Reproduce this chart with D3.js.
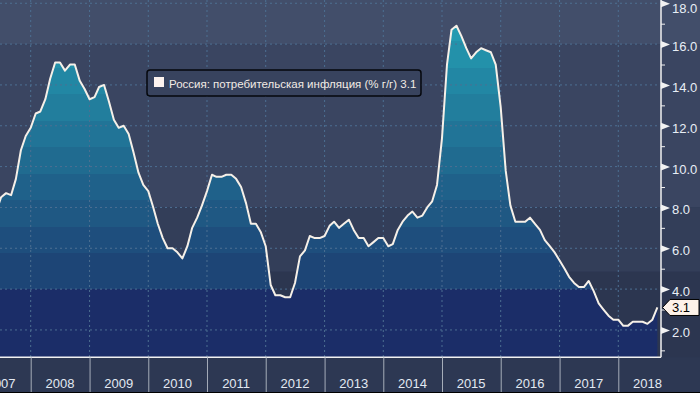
<!DOCTYPE html>
<html>
<head>
<meta charset="utf-8">
<script src="https://cdn.jsdelivr.net/npm/d3@7"></script>
<style>
  body { margin: 0; background: #2d3853; }
  svg { display: block; }
</style>
</head>
<body>
<div id="chart"></div>
<script>
// monthly CPI, % y/y, May 2007 .. Aug 2018
var startYear = 2007, startMonth = 4;
var cpi = [
  7.8, 8.5, 8.7, 8.6, 9.4, 10.8, 11.5, 11.9,
  12.6, 12.7, 13.3, 14.3, 15.1, 15.1, 14.7, 15.0, 15.0, 14.2, 13.8, 13.3,
  13.4, 13.9, 14.0, 13.2, 12.3, 11.9, 12.0, 11.6, 10.7, 9.7, 9.1, 8.8,
  8.0, 7.2, 6.5, 6.0, 6.0, 5.8, 5.5, 6.1, 7.0, 7.5, 8.1, 8.8,
  9.6, 9.5, 9.5, 9.6, 9.6, 9.4, 9.0, 8.2, 7.2, 7.2, 6.8, 6.1,
  4.2, 3.7, 3.7, 3.6, 3.6, 4.3, 5.6, 5.9, 6.6, 6.5, 6.5, 6.6,
  7.1, 7.3, 7.0, 7.2, 7.4, 6.9, 6.5, 6.5, 6.1, 6.3, 6.5, 6.5,
  6.1, 6.2, 6.9, 7.3, 7.6, 7.8, 7.5, 7.6, 8.0, 8.3, 9.1, 11.4,
  15.0, 16.7, 16.9, 16.4, 15.8, 15.3, 15.6, 15.8, 15.7, 15.6, 15.0, 12.9,
  9.8, 8.1, 7.3, 7.3, 7.3, 7.5, 7.2, 6.9, 6.4, 6.1, 5.8, 5.4,
  5.0, 4.6, 4.3, 4.1, 4.1, 4.4, 3.9, 3.3, 3.0, 2.7, 2.5, 2.5,
  2.2, 2.2, 2.4, 2.4, 2.4, 2.3, 2.5, 3.1
];
var years = [2007, 2008, 2009, 2010, 2011, 2012, 2013, 2014, 2015, 2016, 2017, 2018];
var yMajor = [2, 4, 6, 8, 10, 12, 14, 16, 18];
var yMinor = [1, 3, 5, 7, 9, 11, 13, 15, 17];
var legendText = 'Россия: потребительская инфляция (% г/г) 3.1';
var lastLabel = '3.1';

var W = 700, H = 393;
var plotR = 661, plotB = 357.3;

var data = cpi.map(function (v, i) {
  var m = startMonth + i;
  return { date: new Date(startYear, m + 1, 1), value: v };
});

var x = d3.scaleTime()
  .domain([new Date(2008, 0, 1), new Date(2018, 0, 1)])
  .range([30.7, 618.3]);
var y = d3.scaleLinear().domain([0.66, 18.16]).range([plotB, 0]);

var svg = d3.select('#chart').append('svg')
  .attr('width', W).attr('height', H)
  .style('font-family', '"Liberation Sans", Arial, sans-serif');

var defs = svg.append('defs');
defs.append('clipPath').attr('id', 'clip')
  .append('rect').attr('x', 0).attr('y', 0).attr('width', plotR).attr('height', plotB);

// background bands
var bgBands = [
  { from: 16, to: 19, color: '#424e6a' },
  { from: 8, to: 16, color: '#3a4561' },
  { from: 4.85, to: 8, color: '#333e59' },
  { from: 0, to: 4.85, color: '#2c3650' }
];
bgBands.forEach(function (b) {
  svg.append('rect')
    .attr('x', 0).attr('width', W)
    .attr('y', Math.max(0, y(b.to)))
    .attr('height', Math.min(plotB, y(b.from)) - Math.max(0, y(b.to)))
    .attr('fill', b.color);
});
svg.append('rect').attr('x', 0).attr('y', plotB).attr('width', W).attr('height', H - plotB)
  .attr('fill', '#2d3853');

// stepped gradient for the area
var bandEdges = [4, 5.75, 7.05, 8.35, 9.65, 10.95, 12.25, 13.55, 14.85, 16.15, 18.2];
var bandColor = d3.interpolateRgb('#1d4576', '#249ab1');
var grad = defs.append('linearGradient').attr('id', 'areaGrad')
  .attr('gradientUnits', 'userSpaceOnUse')
  .attr('x1', 0).attr('x2', 0).attr('y1', plotB).attr('y2', 0);
function off(v) { return (plotB - y(v)) / plotB; }
grad.append('stop').attr('offset', 0).attr('stop-color', '#1b2d68');
grad.append('stop').attr('offset', off(4)).attr('stop-color', '#1b2d68');
for (var i = 0; i < bandEdges.length - 1; i++) {
  var c = bandColor(i / (bandEdges.length - 2));
  grad.append('stop').attr('offset', off(bandEdges[i])).attr('stop-color', c);
  grad.append('stop').attr('offset', off(bandEdges[i + 1])).attr('stop-color', c);
}

var g = svg.append('g').attr('clip-path', 'url(#clip)');

g.append('path')
  .datum(data)
  .attr('fill', 'url(#areaGrad)')
  .attr('d', d3.area().x(function (d) { return x(d.date); }).y0(plotB).y1(function (d) { return y(d.value); }));

// grid
g.selectAll('line.hgrid').data(yMajor).enter().append('line')
  .attr('class', 'hgrid')
  .attr('x1', 0).attr('x2', plotR)
  .attr('y1', function (d) { return y(d); }).attr('y2', function (d) { return y(d); })
  .attr('stroke', '#4d6f92').attr('stroke-width', 1).attr('stroke-dasharray', '2,3');
g.selectAll('line.vgrid').data(years.slice(1)).enter().append('line')
  .attr('class', 'vgrid')
  .attr('x1', function (d) { return x(new Date(d, 0, 1)); })
  .attr('x2', function (d) { return x(new Date(d, 0, 1)); })
  .attr('y1', 0).attr('y2', plotB)
  .attr('stroke', '#4d6f92').attr('stroke-width', 1).attr('stroke-dasharray', '2,3');

g.append('path')
  .datum(data)
  .attr('fill', 'none')
  .attr('stroke', '#f6f0e8')
  .attr('stroke-width', 2)
  .attr('stroke-linejoin', 'round')
  .attr('d', d3.line().x(function (d) { return x(d.date); }).y(function (d) { return y(d.value); }));

// axes lines
svg.append('line').attr('x1', 0).attr('x2', plotR).attr('y1', plotB).attr('y2', plotB)
  .attr('stroke', '#f2f2f2').attr('stroke-width', 1.5);
svg.append('line').attr('x1', plotR).attr('x2', plotR).attr('y1', 0).attr('y2', plotB)
  .attr('stroke', '#f2f2f2').attr('stroke-width', 1.5);

// y axis
var yAxis = svg.append('g').attr('transform', 'translate(' + plotR + ',0)')
  .call(d3.axisRight(y).tickValues(yMajor).tickSize(0).tickPadding(11)
    .tickFormat(function (d) { return d.toFixed(1); }));
yAxis.select('.domain').remove();
yAxis.selectAll('text')
  .attr('fill', '#e8eef6').attr('font-size', 13)
  .attr('font-family', '"Liberation Sans", Arial, sans-serif')
  .attr('dy', function (d) { return d === 18 ? '0.72em' : '0.5em'; })
  .attr('y', 0);
yAxis.selectAll('.tick').append('path')
  .attr('d', 'M0,-3.5L9,0L0,3.5Z').attr('fill', '#f2f2f2');

var yMin = svg.append('g').attr('transform', 'translate(' + plotR + ',0)')
  .call(d3.axisRight(y).tickValues(yMinor).tickSize(4).tickFormat(''));
yMin.select('.domain').remove();
yMin.selectAll('line').attr('stroke', '#f2f2f2');

// x axis
var xAxis = svg.append('g').attr('transform', 'translate(0,' + plotB + ')')
  .call(d3.axisBottom(x).tickValues(years.slice(1).map(function (d) { return new Date(d, 0, 1); }))
    .tickSize(H - plotB).tickFormat(''));
xAxis.select('.domain').remove();
xAxis.selectAll('line').attr('stroke', '#a5adb9');

svg.selectAll('text.year').data(years).enter().append('text')
  .attr('class', 'year')
  .attr('x', function (d) { return x(new Date(d, 6, 1)); })
  .attr('y', 388)
  .attr('text-anchor', 'middle')
  .attr('font-size', 13)
  .attr('fill', '#e2e9f2')
  .text(function (d) { return d; });

svg.append('line').attr('x1', 0).attr('x2', W).attr('y1', H - 0.5).attr('y2', H - 0.5)
  .attr('stroke', '#000');

// legend
var leg = svg.append('g');
leg.append('rect').attr('x', 147).attr('y', 70).attr('width', 274).attr('height', 26)
  .attr('rx', 3).attr('fill', '#38435e').attr('stroke', '#05070c').attr('stroke-width', 1.5);
leg.append('rect').attr('x', 154).attr('y', 77).attr('width', 10).attr('height', 10)
  .attr('fill', '#fdf3ee');
leg.append('text').attr('x', 169).attr('y', 87.5).attr('font-size', 11.5)
  .attr('fill', '#f2ebe5').text(legendText);

// last value flag
var last = data[data.length - 1];
var ly = y(last.value);
svg.append('path')
  .attr('d', 'M' + (plotR + 1.5) + ',' + ly + 'L' + (plotR + 9) + ',' + (ly - 8) + 'L699,' + (ly - 8) +
    'L699,' + (ly + 8) + 'L' + (plotR + 9) + ',' + (ly + 8) + 'Z')
  .attr('fill', '#fdf2e9').attr('stroke', '#000').attr('stroke-width', 1);
svg.append('text').attr('x', 672).attr('y', ly + 4.8).attr('font-size', 13)
  .attr('fill', '#000').text(lastLabel);
</script>
</body>
</html>
